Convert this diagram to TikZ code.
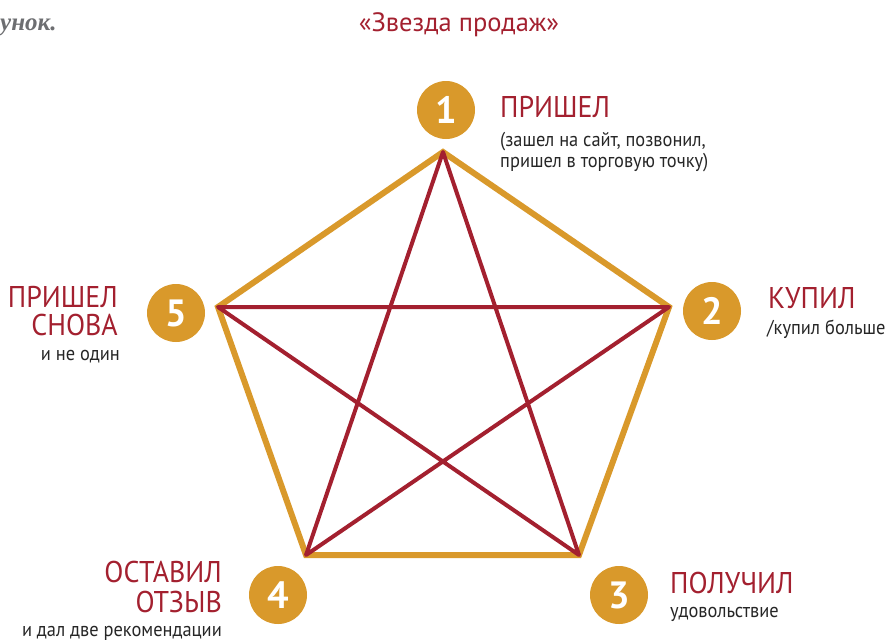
\documentclass[tikz,border=0pt]{standalone}
\usepackage{fontspec}
\setmainfont{PT Sans}
\newfontfamily\cond[FakeStretch=0.93]{PT Sans}
\newfontfamily\condn[FakeStretch=0.92]{PT Sans}
\newfontfamily\rmbi{Liberation Serif}
\usetikzlibrary{positioning}
\definecolor{gold}{HTML}{D9992B}
\definecolor{wine}{HTML}{A3202F}
\definecolor{ink}{HTML}{262626}
\definecolor{grey}{HTML}{6D6E71}
\begin{document}
\begin{tikzpicture}[x=1pt,y=-1pt,
  num/.style={circle,fill=gold,minimum size=58pt,inner sep=0pt,text=white,font=\bfseries\fontsize{38}{38}\selectfont},
  head/.style={text=wine,inner sep=0pt,font=\cond\fontsize{30}{30}\selectfont},
  note/.style={text=ink,inner sep=0pt,font=\condn\fontsize{20}{20}\selectfont},
  pent/.style={draw=gold,line width=6pt},
  star/.style={draw=wine,line width=4pt,line join=round}]
\useasboundingbox (0,0) rectangle (890,640);
% header
\node[inner sep=0pt,anchor=base west,text=grey,font=\rmbi\bfseries\itshape\fontsize{25}{25}\selectfont] (fig) at (0,30) {унок.};
\node[inner sep=0pt,anchor=base,text=wine,font=\fontsize{26.5}{26.5}\selectfont] (title) at (459,31) {«Звезда продаж»};
% pentagon and star
\coordinate (v1) at (443,152);
\coordinate (v2) at (669,307);
\coordinate (v3) at (579,555);
\coordinate (v4) at (306,555);
\coordinate (v5) at (218,307);
\draw[pent] (v1)--(v2)--(v3)--(v4)--(v5)--cycle;
\draw[star] (v1)--(v3)--(v5)--(v2)--(v4)--cycle;
% numbers
\node[num] (n1) at (446,110) {1};
\node[num] (n2) at (712,311) {2};
\node[num] (n3) at (619,595) {3};
\node[num] (n4) at (278,595) {4};
\node[num] (n5) at (176,313) {5};
% labels
\node[head,anchor=base west] (h1) at (500,117) {ПРИШЕЛ};
\node[note,anchor=base west] (a1) at (500,146) {(зашел на сайт, позвонил,};
\node[note,anchor=base west] (b1) at (500,167) {пришел в торговую точку)};
\node[head,anchor=base west] (h2) at (768,308) {КУПИЛ};
\node[note,anchor=base west] (a2) at (767,334) {/купил больше};
\node[head,anchor=base west] (h3) at (670,593) {ПОЛУЧИЛ};
\node[note,anchor=base west] (a3) at (670,617) {удовольствие};
\node[head,anchor=base east] (h4) at (222,582) {ОСТАВИЛ};
\node[head,anchor=base east] (b4) at (222,612) {ОТЗЫВ};
\node[note,anchor=base east] (a4) at (222,636) {и дал две рекомендации};
\node[head,anchor=base east] (h5) at (118,307) {ПРИШЕЛ};
\node[head,anchor=base east] (b5) at (118,335) {СНОВА};
\node[note,anchor=base east] (a5) at (120,360) {и не один};
\end{tikzpicture}
\end{document}
